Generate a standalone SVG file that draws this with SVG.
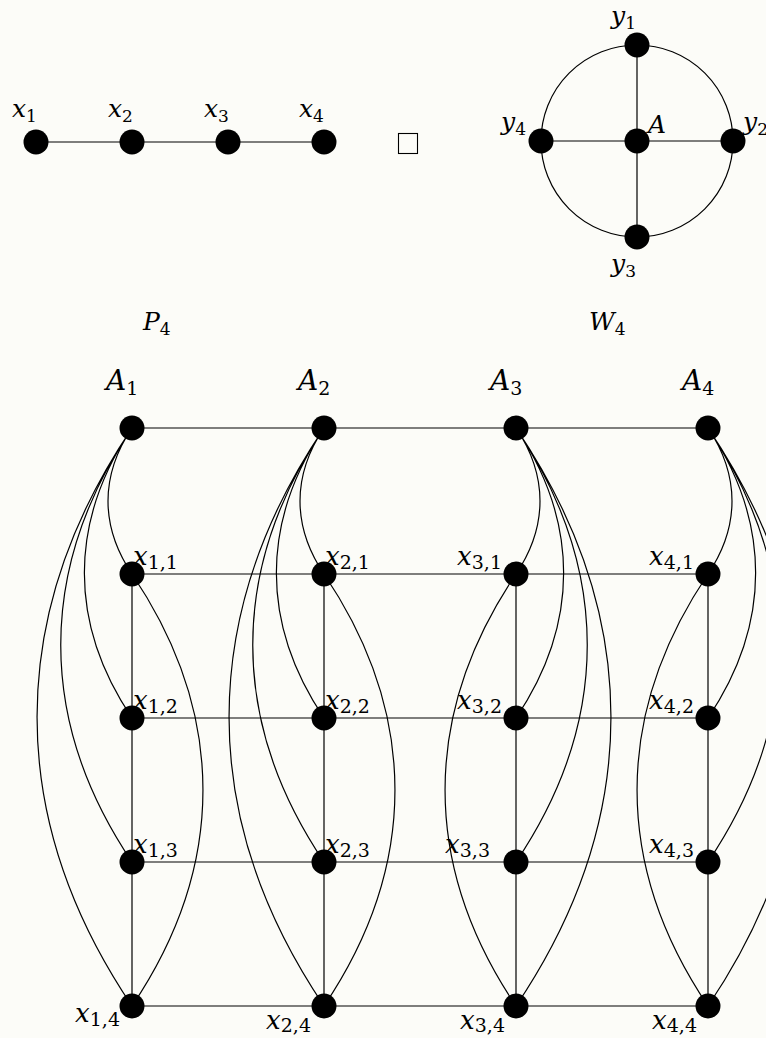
<svg xmlns="http://www.w3.org/2000/svg" width="766" height="1038" viewBox="0 0 766 1038">
<style>
.e{fill:none;stroke:#000;stroke-width:1.2}
.n{fill:#000}
.m{font-family:"DejaVu Serif",serif;font-style:italic;font-size:25px;fill:#000}
.s{font-style:normal;font-size:17px}
.g{font-family:"DejaVu Serif",serif;font-style:italic;font-size:26px;fill:#000}
.a{font-size:28px}
.t{font-style:normal;font-size:19px}
.r{text-anchor:end}
</style>
<rect x="0" y="0" width="766" height="1038" fill="#fcfcf8"/>
<g id="connectors">
<path class="e" d="M36 142H324"/>
<circle class="e" cx="637" cy="141" r="96"/>
<path class="e" d="M541 141H733M637 45V237"/>
<path class="e" d="M132 428H708M132 574H708M132 718H708M132 862H708M132 1006H708"/>
<path class="e" d="M132 574V1006M324 574V1006M516 574V1006M708 574V1006"/>
<path class="e" d="M132 428C100 475.5 100 526.5 132 574M132 428C68.5 522.3 68.5 623.7 132 718M132 428C37 569.1 37 720.9 132 862M132 428C5.4 615.9 5.4 818.1 132 1006M132 574C226.6 714.4 226.6 865.6 132 1006"/>
<path class="e" d="M324 428C292 475.5 292 526.5 324 574M324 428C260.5 522.3 260.5 623.7 324 718M324 428C229 569.1 229 720.9 324 862M324 428C197.4 615.9 197.4 818.1 324 1006M324 574C418.6 714.4 418.6 865.6 324 1006"/>
<path class="e" d="M516 428C548 475.5 548 526.5 516 574M516 428C579.5 522.3 579.5 623.7 516 718M516 428C611 569.1 611 720.9 516 862M516 428C642.6 615.9 642.6 818.1 516 1006M516 574C421.4 714.4 421.4 865.6 516 1006"/>
<path class="e" d="M708 428C740 475.5 740 526.5 708 574M708 428C771.5 522.3 771.5 623.7 708 718M708 428C803 569.1 803 720.9 708 862M708 428C834.6 615.9 834.6 818.1 708 1006M708 574C613.4 714.4 613.4 865.6 708 1006"/>
</g>
<g id="box"><rect x="398.5" y="133.5" width="19" height="20" fill="none" stroke="#000" stroke-width="1.1"/></g>
<g id="P4label"><text class="m" x="143" y="330">P<tspan class="s" dy="5">4</tspan></text></g>
<g id="W4label"><text class="m" x="589" y="330">W<tspan class="s" dy="5">4</tspan></text></g>
<g id="x1"><circle class="n" cx="36" cy="142" r="12.5"/><text class="m" x="12" y="117">x<tspan class="s" dy="5">1</tspan></text></g>
<g id="x2"><circle class="n" cx="132" cy="142" r="12.5"/><text class="m" x="108" y="117">x<tspan class="s" dy="5">2</tspan></text></g>
<g id="x3"><circle class="n" cx="228" cy="142" r="12.5"/><text class="m" x="204" y="117">x<tspan class="s" dy="5">3</tspan></text></g>
<g id="x4"><circle class="n" cx="324" cy="142" r="12.5"/><text class="m" x="299" y="117">x<tspan class="s" dy="5">4</tspan></text></g>
<g id="y1"><circle class="n" cx="637" cy="45" r="12.5"/><text class="m" x="611" y="24">y<tspan class="s" dy="5">1</tspan></text></g>
<g id="y2"><circle class="n" cx="733" cy="141" r="12.5"/><text class="m" x="743" y="130">y<tspan class="s" dy="5">2</tspan></text></g>
<g id="y3"><circle class="n" cx="637" cy="237" r="12.5"/><text class="m" x="611" y="272">y<tspan class="s" dy="5">3</tspan></text></g>
<g id="y4"><circle class="n" cx="541" cy="141" r="12.5"/><text class="m" x="501" y="130">y<tspan class="s" dy="5">4</tspan></text></g>
<g id="A"><circle class="n" cx="637" cy="141" r="12.5"/><text class="m" x="648" y="133">A</text></g>
<g id="A1"><circle class="n" cx="132" cy="428" r="12.5"/><text class="g a" x="106" y="390">A<tspan class="t" dy="5">1</tspan></text></g>
<g id="A2"><circle class="n" cx="324" cy="428" r="12.5"/><text class="g a" x="298" y="390">A<tspan class="t" dy="5">2</tspan></text></g>
<g id="A3"><circle class="n" cx="516" cy="428" r="12.5"/><text class="g a" x="490" y="390">A<tspan class="t" dy="5">3</tspan></text></g>
<g id="A4"><circle class="n" cx="708" cy="428" r="12.5"/><text class="g a" x="682" y="390">A<tspan class="t" dy="5">4</tspan></text></g>
<g id="x11"><circle class="n" cx="132" cy="574" r="12.5"/><text class="g" x="133" y="565">x<tspan class="t" dy="4">1,1</tspan></text></g>
<g id="x21"><circle class="n" cx="324" cy="574" r="12.5"/><text class="g" x="325" y="565">x<tspan class="t" dy="4">2,1</tspan></text></g>
<g id="x31"><circle class="n" cx="516" cy="574" r="12.5"/><text class="g r" x="502" y="565">x<tspan class="t" dy="4">3,1</tspan></text></g>
<g id="x41"><circle class="n" cx="708" cy="574" r="12.5"/><text class="g r" x="694" y="565">x<tspan class="t" dy="4">4,1</tspan></text></g>
<g id="x12"><circle class="n" cx="132" cy="718" r="12.5"/><text class="g" x="133" y="709">x<tspan class="t" dy="4">1,2</tspan></text></g>
<g id="x22"><circle class="n" cx="324" cy="718" r="12.5"/><text class="g" x="325" y="709">x<tspan class="t" dy="4">2,2</tspan></text></g>
<g id="x32"><circle class="n" cx="516" cy="718" r="12.5"/><text class="g r" x="502" y="709">x<tspan class="t" dy="4">3,2</tspan></text></g>
<g id="x42"><circle class="n" cx="708" cy="718" r="12.5"/><text class="g r" x="694" y="709">x<tspan class="t" dy="4">4,2</tspan></text></g>
<g id="x13"><circle class="n" cx="132" cy="862" r="12.5"/><text class="g" x="133" y="853">x<tspan class="t" dy="4">1,3</tspan></text></g>
<g id="x23"><circle class="n" cx="324" cy="862" r="12.5"/><text class="g" x="325" y="853">x<tspan class="t" dy="4">2,3</tspan></text></g>
<g id="x33"><circle class="n" cx="516" cy="862" r="12.5"/><text class="g r" x="490" y="853">x<tspan class="t" dy="4">3,3</tspan></text></g>
<g id="x43"><circle class="n" cx="708" cy="862" r="12.5"/><text class="g r" x="694" y="853">x<tspan class="t" dy="4">4,3</tspan></text></g>
<g id="x14"><circle class="n" cx="132" cy="1006" r="12.5"/><text class="g r" x="120" y="1022">x<tspan class="t" dy="4">1,4</tspan></text></g>
<g id="x24"><circle class="n" cx="324" cy="1006" r="12.5"/><text class="g r" x="311" y="1029">x<tspan class="t" dy="3">2,4</tspan></text></g>
<g id="x34"><circle class="n" cx="516" cy="1006" r="12.5"/><text class="g r" x="505" y="1029">x<tspan class="t" dy="3">3,4</tspan></text></g>
<g id="x44"><circle class="n" cx="708" cy="1006" r="12.5"/><text class="g r" x="697" y="1029">x<tspan class="t" dy="3">4,4</tspan></text></g>
</svg>
